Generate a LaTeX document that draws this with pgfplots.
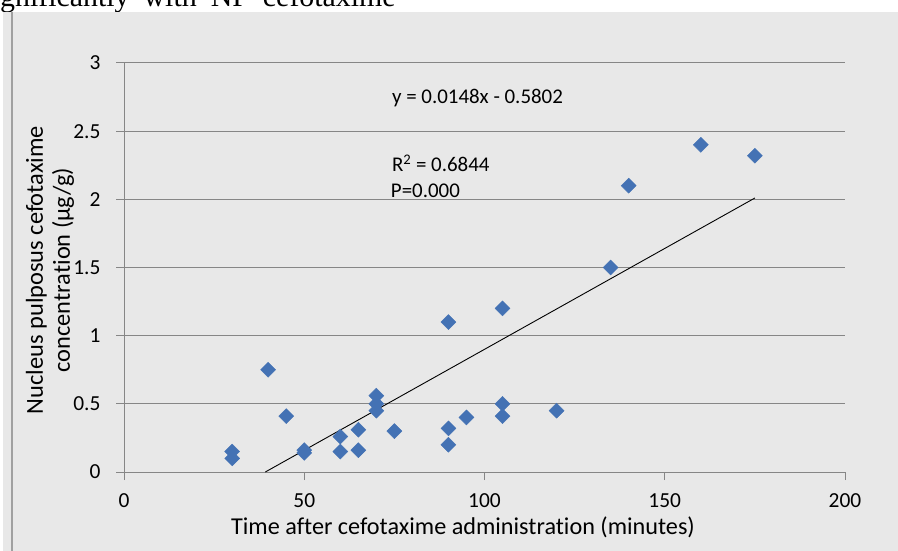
\documentclass[border=0pt]{standalone}
\usepackage{pgfplots}
\pgfplotsset{compat=1.18}
\usepackage{fontspec}
\setmainfont[Ligatures=NoCommon]{Carlito}
\newfontfamily\timesfont{Liberation Serif}
\definecolor{bgc}{RGB}{232,232,232}
\definecolor{gridc}{RGB}{134,134,134}
\definecolor{framec}{RGB}{160,160,160}
\definecolor{markc}{RGB}{68,114,180}
\begin{document}
\begin{tikzpicture}[x=1bp,y=1bp]
\useasboundingbox (0,0) rectangle (898,-551);
\fill[white] (0,0) rectangle (898,-551);
\begin{scope}
\clip (0,0) rectangle (898,-12);
\node[anchor=base west,inner sep=0pt,font={\timesfont\fontsize{30}{30}\selectfont}] at (-20,-7) {significantly\hspace{14bp}with\hspace{14bp}NP\hspace{14bp}cefotaxime};
\end{scope}
\fill[bgc] (3,-12) rectangle (898,-551);
\draw[framec,line width=1.5bp] (12,-12) -- (12,-551);
\begin{axis}[
  at={(124bp,-472bp)}, anchor=south west,
  scale only axis, width=721bp, height=409bp,
  xmin=0, xmax=200, ymin=0, ymax=3,
  xtick={0,50,100,150,200}, ytick={0,0.5,1,1.5,2,2.5,3},
  axis x line=bottom, axis y line=left,
  axis line style={gridc,line width=1bp,-},
  tick style={gridc,line width=1bp},
  tick align=outside, major tick length=8bp,
  ymajorgrids, grid style={gridc,line width=1bp},
  ticklabel style={font=\fontsize{21.5}{24}\selectfont, text=black},
  /pgf/number format/assume math mode=true,
  yticklabel style={xshift=-12bp},
  xticklabel style={yshift=-10bp},
  clip=false,
]
\addplot[only marks, mark=square*, mark size=5.3bp, mark options={rotate=45, fill=markc, draw=markc}, color=markc] coordinates {
(30,0.15) (30,0.10) (40,0.75) (45,0.41) (50,0.16) (50,0.14)
(60,0.26) (60,0.15) (65,0.31) (65,0.16) (70,0.56) (70,0.50) (70,0.45)
(75,0.30) (90,1.10) (90,0.32) (90,0.20) (95,0.40)
(105,1.20) (105,0.50) (105,0.41) (120,0.45) (135,1.50)
(140,2.10) (160,2.40) (175,2.32)
};
\addplot[black, line width=0.9bp] coordinates {(39.2,0) (175,2.0098)};
\node[anchor=west, inner sep=0pt, font=\fontsize{21}{24}\selectfont] at (axis cs:74.3,2.74) {y = 0.0148x - 0.5802};
\node[anchor=west, inner sep=0pt, font=\fontsize{21}{24}\selectfont] at (axis cs:74.3,2.265) {R\textsuperscript{2} = 0.6844};
\node[anchor=west, inner sep=0pt, font=\fontsize{21}{24}\selectfont] at (axis cs:74.0,2.064) {P=0.000};
\end{axis}
\node[rotate=90, align=center, font=\fontsize{24.5}{27}\selectfont] at (50,-270) {Nucleus pulposus cefotaxime\\concentration (µg/g)};
\node[font=\fontsize{24.3}{27}\selectfont] at (463,-527) {Time after cefotaxime administration (minutes)};
\end{tikzpicture}
\end{document}
